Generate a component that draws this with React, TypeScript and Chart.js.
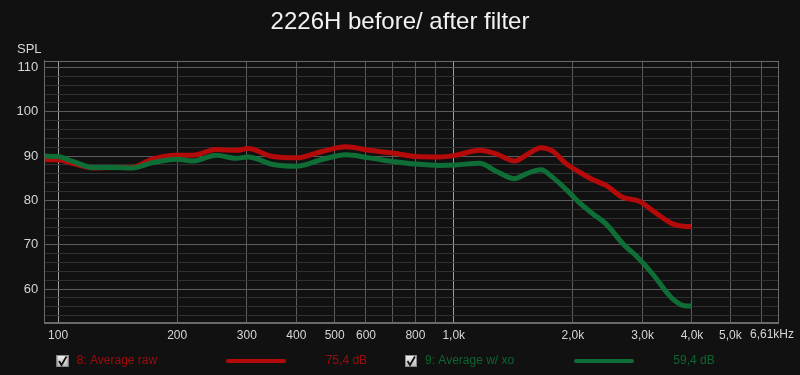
import React, { useEffect, useRef } from 'react';
import { Chart, registerables } from 'chart.js';

Chart.register(...registerables);

// ---------- data ----------
const TITLE = '2226H before/ after filter';
const Y_UNIT = 'SPL';

const freqs = [
  92.6, 100, 109, 123, 137, 154, 173, 199, 219, 251, 282, 302, 349, 400, 467, 534,
  612, 700, 802, 920, 1012, 1161, 1280, 1423, 1523, 1662, 1778, 1922, 2077, 2244,
  2425, 2672, 2944, 3181, 3573, 3864, 3977,
];
const rawSpl = [
  89.2, 89.2, 88.3, 87.3, 87.4, 87.5, 89.3, 90.2, 90.2, 91.5, 91.3, 91.7, 89.9, 89.6, 91.1, 92.1,
  91.3, 90.7, 89.9, 89.8, 90.2, 91.3, 90.5, 88.9, 90.2, 91.9, 91.1, 88.3, 86.4, 84.7,
  83.4, 80.7, 79.8, 77.7, 74.7, 74.1, 74.1,
];
const xoSpl = [
  90.0, 89.9, 88.8, 87.4, 87.4, 87.3, 88.5, 89.3, 88.9, 90.2, 89.5, 89.8, 88.1, 87.7, 89.3, 90.3,
  89.6, 88.8, 88.2, 87.9, 88.0, 88.4, 86.6, 84.9, 86.0, 86.9, 85.2, 82.5, 79.5, 77.0,
  74.7, 70.3, 66.8, 63.4, 57.8, 56.2, 56.2,
];

const seriesNames = ['8: Average raw', '9: Average w/ xo'];
const seriesReadouts = ['75,4 dB', '59,4 dB'];
const seriesColors = ['#b40a0a', '#0e6e36'];
const seriesTextColors = ['#a00c0c', '#0b6630'];

const xTickValues = [100, 200, 300, 400, 500, 600, 700, 800, 900, 1000, 2000, 3000, 4000, 5000, 6000, 6610];
const xTickLabels = ['100', '200', '300', '400', '500', '600', '', '800', '', '1,0k', '2,0k', '3,0k', '4,0k', '5,0k', '', ''];
const X_END_LABEL = '6,61kHz';
const yTickValues = [54, 56, 58, 60, 62, 64, 66, 68, 70, 72, 74, 76, 78, 80, 82, 84, 86, 88, 90, 92, 94, 96, 98, 100, 102, 104, 106, 108, 110];
const yTickLabels = [60, 70, 80, 90, 100, 110];

const X_MIN = 92.3;
const X_MAX = 6610;
const Y_MIN = 52.5;
const Y_MAX = 111.5;

const FONT = '"Liberation Sans", Arial, Helvetica, sans-serif';

const overlayPlugin = {
  id: 'overlay',
  beforeDatasetsDraw(chart: any) {
    const { ctx, chartArea: a } = chart;
    ctx.save();
    ctx.strokeStyle = '#6a6a6a';
    ctx.lineWidth = 1;
    ctx.strokeRect(Math.round(a.left) + 0.5, Math.round(a.top) + 0.5, Math.round(a.right - a.left), Math.round(a.bottom - a.top));
    ctx.restore();
  },
  afterDraw(chart: any) {
    const { ctx, chartArea: a } = chart;
    ctx.save();
    // unit label
    ctx.font = `13px ${FONT}`;
    ctx.fillStyle = '#d6d6d6';
    ctx.textBaseline = 'middle';
    ctx.textAlign = 'left';
    ctx.fillText(Y_UNIT, 17, 49);

    // end-of-axis label
    ctx.font = `12px ${FONT}`;
    ctx.textBaseline = 'top';
    ctx.fillText(X_END_LABEL, 750, a.bottom + 6);

    // legend
    const boxX = [56.5, 405];
    const textX = [76.7, 425];
    const lineX = [[228, 284], [576, 632]];
    const readX = [325.7, 673.3];
    const cy = 361;
    for (let i = 0; i < seriesNames.length; i++) {
      const bx = boxX[i];
      const by = 355;
      const g = ctx.createLinearGradient(0, by, 0, by + 12);
      g.addColorStop(0, '#f4f4f4');
      g.addColorStop(1, '#b8b8b8');
      ctx.fillStyle = g;
      ctx.fillRect(bx, by, 12, 12);
      ctx.strokeStyle = '#8a8a8a';
      ctx.lineWidth = 1;
      ctx.strokeRect(bx + 0.5, by + 0.5, 11, 11);
      ctx.strokeStyle = '#111';
      ctx.lineWidth = 1.8;
      ctx.beginPath();
      ctx.moveTo(bx + 2.5, by + 6);
      ctx.lineTo(bx + 5, by + 10);
      ctx.lineTo(bx + 10, by + 1.5);
      ctx.stroke();

      ctx.font = `12px ${FONT}`;
      ctx.fillStyle = seriesTextColors[i];
      ctx.textBaseline = 'middle';
      ctx.textAlign = 'left';
      ctx.fillText(seriesNames[i], textX[i], cy);
      ctx.fillText(seriesReadouts[i], readX[i], cy);

      ctx.strokeStyle = seriesColors[i];
      ctx.lineWidth = 4;
      ctx.lineCap = 'round';
      ctx.beginPath();
      ctx.moveTo(lineX[i][0], cy);
      ctx.lineTo(lineX[i][1], cy);
      ctx.stroke();
      ctx.lineCap = 'butt';
    }
    ctx.restore();
  },
};

export default function App() {
  const canvasRef = useRef<HTMLCanvasElement | null>(null);

  useEffect(() => {
    document.body.style.background = '#111111';
    const canvas = canvasRef.current;
    if (!canvas) return;
    const chart = new Chart(canvas, {
      type: 'line',
      data: {
        datasets: [
          {
            label: seriesNames[0],
            data: freqs.map((f, i) => ({ x: f, y: rawSpl[i] })),
            borderColor: seriesColors[0],
            borderWidth: 5,
            pointRadius: 0,
            cubicInterpolationMode: 'monotone',
            fill: false,
            order: 2,
          },
          {
            label: seriesNames[1],
            data: freqs.map((f, i) => ({ x: f, y: xoSpl[i] })),
            borderColor: seriesColors[1],
            borderWidth: 5,
            pointRadius: 0,
            cubicInterpolationMode: 'monotone',
            fill: false,
            order: 1,
          },
        ],
      },
      options: {
        responsive: false,
        maintainAspectRatio: false,
        animation: false,
        events: [],
        layout: { padding: 0 },
        plugins: {
          legend: { display: false },
          tooltip: { enabled: false },
          title: {
            display: true,
            text: TITLE,
            color: '#f2f2f2',
            font: { family: FONT, size: 24, weight: 'normal' },
            padding: { top: 8, bottom: 24 },
          },
        },
        scales: {
          x: {
            type: 'logarithmic',
            min: X_MIN,
            max: X_MAX,
            afterBuildTicks: (scale: any) => {
              scale.ticks = xTickValues.map((v) => ({ value: v }));
            },
            afterFit: (scale: any) => {
              scale.height = 52.7;
            },
            ticks: {
              autoSkip: false,
              maxRotation: 0,
              minRotation: 0,
              padding: 6,
              color: '#d6d6d6',
              font: { family: FONT, size: 12 },
              callback: (value: any) => {
                const idx = xTickValues.indexOf(Number(value));
                return idx >= 0 ? xTickLabels[idx] : '';
              },
            },
            grid: {
              drawTicks: false,
              color: (ctx: any) => {
                const v = ctx.tick && ctx.tick.value;
                return v === 100 || v === 1000 ? '#a0a0a0' : '#5c5c5c';
              },
            },
            border: { color: '#6a6a6a' },
          },
          y: {
            type: 'linear',
            min: Y_MIN,
            max: Y_MAX,
            afterBuildTicks: (scale: any) => {
              scale.ticks = yTickValues.map((v) => ({ value: v }));
            },
            afterFit: (scale: any) => {
              scale.width = 44.3;
            },
            ticks: {
              autoSkip: false,
              padding: 6,
              color: '#d6d6d6',
              font: { family: FONT, size: 13 },
              callback: (value: any) => (yTickLabels.includes(Number(value)) ? String(value) : ''),
            },
            grid: {
              drawTicks: false,
              color: (ctx: any) => {
                const v = ctx.tick && ctx.tick.value;
                return yTickLabels.includes(v) ? '#5c5c5c' : '#303030';
              },
            },
            border: { color: '#6a6a6a' },
          },
          yRight: {
            type: 'linear',
            position: 'right',
            display: true,
            min: 0,
            max: 1,
            grid: { display: false, drawTicks: false },
            ticks: { display: false },
            border: { display: false },
            afterFit: (scale: any) => {
              scale.width = 21.7;
            },
          },
        },
      },
      plugins: [overlayPlugin],
    } as any);
    return () => chart.destroy();
  }, []);

  return (
    <div style={{ position: 'fixed', left: 0, top: 0, width: 800, height: 375, background: '#111111' }}>
      <canvas ref={canvasRef} width={800} height={375} style={{ display: 'block', width: 800, height: 375 }} />
    </div>
  );
}
